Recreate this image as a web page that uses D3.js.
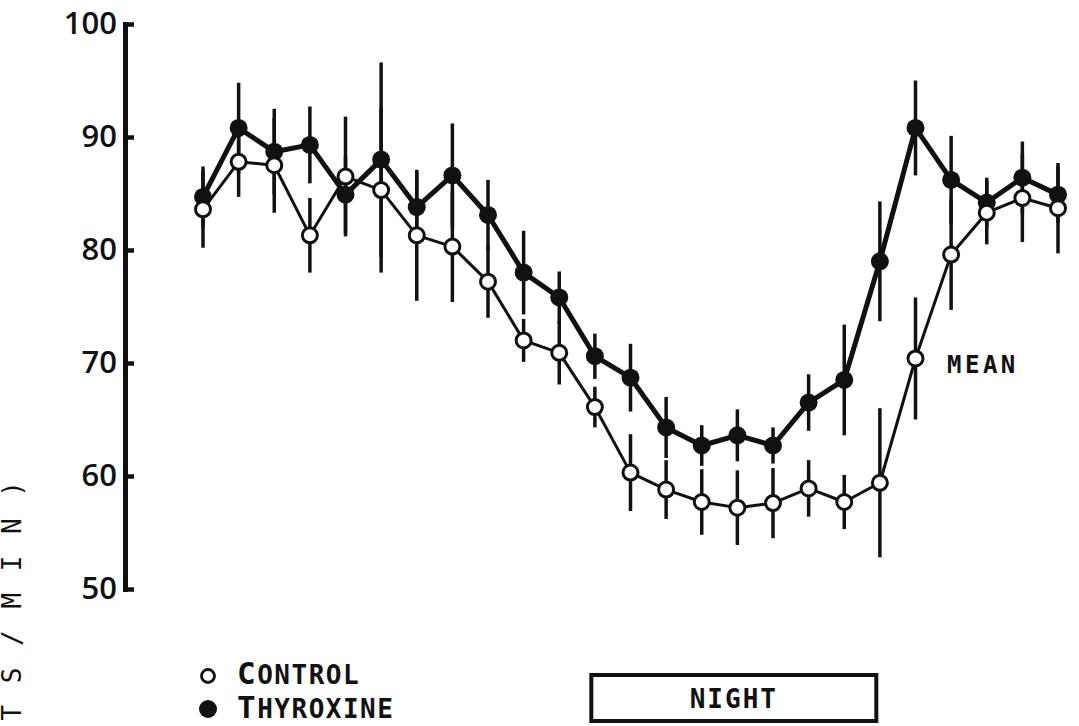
<!DOCTYPE html>
<meta charset="utf-8">
<style>
body { margin: 0; background: #fff; }
svg { display: block; }
.axis text { font-family: "Open Sans", sans-serif; font-size: 31px; font-weight: 600; fill: #111; }
.mono { font-family: "DejaVu Sans Mono", monospace; fill: #111; }
</style>
<body>
<script src="https://d3js.org/d3.v7.min.js"></script>
<script>

// hour index along the day (one reading per hour)
var hours = [0, 1, 2, 3, 4, 5, 6, 7, 8, 9, 10, 11, 12, 13, 14, 15, 16, 17, 18, 19, 20, 21, 22, 23, 24];

var controlMean = [83.6, 87.8, 87.5, 81.3, 86.5, 85.3, 81.3, 80.3, 77.2, 72.0, 70.9, 66.1, 60.3, 58.8, 57.7, 57.2,
                   57.6, 58.9, 57.7, 59.4, 70.4, 79.6, 83.3, 84.6, 83.7];
var controlErr = [3.4, 3.1, 4.2, 3.3, 5.3, 7.3, 5.8, 4.9, 3.2, 1.9, 2.8, 1.8, 3.4, 2.6, 2.9, 3.3,
                  3.1, 2.5, 2.4, 6.6, 5.4, 4.9, 2.8, 3.9, 4.0];

var thyroxineMean = [84.7, 90.8, 88.7, 89.3, 84.9, 88.0, 83.8, 86.6, 83.1, 78.0, 75.8, 70.6, 68.7, 64.3, 62.7, 63.6,
                     62.7, 66.5, 68.5, 79.0, 90.8, 86.2, 84.2, 86.4, 84.9];
var thyroxineErr = [2.7, 4.0, 3.8, 3.4, 3.4, 8.6, 3.1, 4.6, 3.1, 3.7, 2.3, 2.0, 3.0, 2.7, 1.8, 2.3,
                    1.6, 2.5, 4.9, 5.3, 4.2, 3.9, 2.2, 3.2, 2.5];

var yTicks = [50, 60, 70, 80, 90, 100];
var nightSpan = [10.9, 18.9];

var width = 1079, height = 726;

var svg = d3.select("body").append("svg")
    .attr("width", width)
    .attr("height", height);

var x = d3.scaleLinear().domain([0, 24]).range([203, 1058]),
    y = d3.scaleLinear().domain([50, 100]).range([589, 24]);

var axisX = 125;

var yAxis = svg.append("g")
    .attr("class", "axis")
    .attr("transform", "translate(" + axisX + ",0)")
    .call(d3.axisLeft(y).tickValues(yTicks).tickSizeInner(-9).tickSizeOuter(0).tickPadding(8));
yAxis.select(".domain").attr("stroke", "#111").attr("stroke-width", 5).attr("stroke-linecap", "square");
yAxis.selectAll(".tick line").attr("stroke", "#111").attr("stroke-width", 4.5);

// y label, cut by the bottom edge like the scan
svg.append("text")
    .attr("class", "mono")
    .attr("transform", "translate(21,478) rotate(-90)")
    .attr("text-anchor", "end")
    .style("font-size", "26px")
    .style("letter-spacing", "3px")
    .text("( B E A T S / M I N )");

var series = [
  { mean: controlMean, err: controlErr, filled: false, lw: 3 },
  { mean: thyroxineMean, err: thyroxineErr, filled: true, lw: 5 }
];

// error bars
series.forEach(function(s) {
  svg.append("g").selectAll("line")
    .data(hours)
    .enter().append("line")
      .attr("x1", function(d) { return x(d); })
      .attr("x2", function(d) { return x(d); })
      .attr("y1", function(d, i) { return y(s.mean[i] + s.err[i]); })
      .attr("y2", function(d, i) { return y(s.mean[i] - s.err[i]); })
      .attr("stroke", "#111")
      .attr("stroke-width", 3.5);
});

// lines
series.forEach(function(s) {
  var line = d3.line()
      .x(function(d) { return x(d); })
      .y(function(d, i) { return y(s.mean[i]); });
  svg.append("path")
      .datum(hours)
      .attr("d", line)
      .attr("fill", "none")
      .attr("stroke", "#111")
      .attr("stroke-width", s.lw)
      .attr("stroke-linejoin", "round");
});

// markers: thyroxine first, control on top
svg.append("g").selectAll("circle")
  .data(hours)
  .enter().append("circle")
    .attr("cx", function(d) { return x(d); })
    .attr("cy", function(d, i) { return y(thyroxineMean[i]); })
    .attr("r", 9)
    .attr("fill", "#111");

svg.append("g").selectAll("circle")
  .data(hours)
  .enter().append("circle")
    .attr("cx", function(d) { return x(d); })
    .attr("cy", function(d, i) { return y(controlMean[i]); })
    .attr("r", 7.5)
    .attr("fill", "#fff")
    .attr("stroke", "#111")
    .attr("stroke-width", 3);

svg.append("text")
    .attr("class", "mono")
    .attr("x", 947)
    .attr("y", 373)
    .style("font-size", "24px")
    .style("font-weight", "bold")
    .style("letter-spacing", "3.5px")
    .text("MEAN");

// legend
svg.append("circle").attr("cx", 208).attr("cy", 676).attr("r", 6.5)
    .attr("fill", "#fff").attr("stroke", "#111").attr("stroke-width", 2.8);
svg.append("circle").attr("cx", 208).attr("cy", 709).attr("r", 9).attr("fill", "#111");

var legendRows = [["C", "ONTROL", 684], ["T", "HYROXINE", 718]];
legendRows.forEach(function(r) {
  var t = svg.append("text").attr("class", "mono").attr("x", 237).attr("y", r[2])
      .style("font-weight", "bold")
      .style("letter-spacing", "1.5px");
  t.append("tspan").style("font-size", "31px").text(r[0]);
  t.append("tspan").style("font-size", "26px").text(r[1]);
});

// night bar
svg.append("rect")
    .attr("x", x(nightSpan[0]))
    .attr("y", 675)
    .attr("width", x(nightSpan[1]) - x(nightSpan[0]))
    .attr("height", 46)
    .attr("fill", "none")
    .attr("stroke", "#111")
    .attr("stroke-width", 4);

svg.append("text")
    .attr("class", "mono")
    .attr("x", (x(nightSpan[0]) + x(nightSpan[1])) / 2)
    .attr("y", 708)
    .attr("text-anchor", "middle")
    .style("font-size", "26px")
    .style("font-weight", "bold")
    .style("letter-spacing", "2px")
    .text("NIGHT");

</script>
</body>
